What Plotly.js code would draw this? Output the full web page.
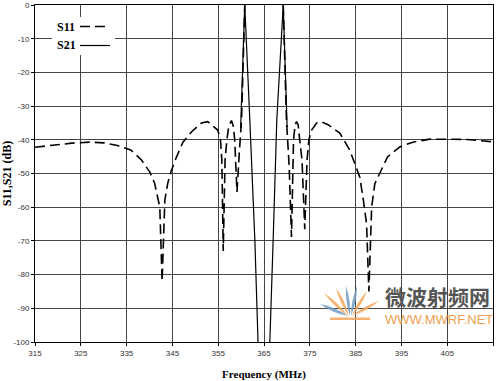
<!DOCTYPE html>
<html>
<head>
<meta charset="utf-8">
<script src="https://cdn.plot.ly/plotly-3.0.1.min.js"></script>
<style>html,body{margin:0;padding:0;background:#fff;}#chart{width:500px;height:381px;}</style>
</head>
<body>
<div id="chart"></div>
<script>
// ---- data ----
const s11Freq = [315, 319, 323, 327, 330, 333, 335.9, 338.25, 340.07, 341.1, 342.25, 342.75,
  343.35, 344.0, 344.8, 345.9, 347.3, 349.2, 351.35, 352.7, 354.9, 355.5, 355.8, 356.1,
  356.5, 356.9, 357.3, 357.9, 358.3, 358.6, 359.1, 359.6, 360.1, 360.8,
  null,
  369.2, 369.9, 370.5, 371.0, 371.45, 371.8, 372.1, 372.45, 372.8, 373.3, 373.9, 374.4,
  374.8, 375.4, 376.5, 377.55, 379.0, 381.55, 383.7, 385.9, 386.6, 387.4, 387.9,
  388.5, 389.2, 390.3, 392.0, 394.65, 397.5, 401.2, 404.9, 409.3, 415];
const s11Val = [-42.2, -41.5, -41.0, -40.7, -40.9, -41.7, -43.0, -46.0, -49.6, -52.8, -60.0, -82.0,
  -57.9, -52.8, -49.0, -45.1, -40.7, -37.6, -35.0, -34.6, -37.1, -40.0, -46.0, -73.0,
  -46.0, -40.0, -36.0, -34.3, -36.0, -40.0, -55.5, -44.0, -34.0, 0,
  null,
  0, -34.0, -48.0, -68.8, -40.0, -35.5, -34.6, -35.5, -40.0, -46.0, -66.5, -46.0,
  -40.0, -37.1, -35.0, -34.7, -35.5, -38.0, -43.0, -51.0, -57.0, -65.0, -85.0,
  -60.0, -53.0, -50.0, -45.0, -42.1, -40.7, -39.8, -39.8, -39.9, -40.6];

const s21Freq = [359.9, 360.8, 361.9, 363.0, 363.7, 364.2, 365.8, 366.27, 367.0, 367.8, 369.2, 370.05];
const s21Val  = [-36.5, 0, -34.0, -69.7, -100, -115, -115, -100, -69.7, -34.0, 0, -36.2];

const xTicks = [315, 325, 335, 345, 355, 365, 375, 385, 395, 405, 415];
const xTickText = ['315', '325', '335', '345', '355', '365', '375', '385', '395', '405', '415'];
const yTicks = [0, -10, -20, -30, -40, -50, -60, -70, -80, -90, -100];
const yTickText = ['0', '-10', '-20', '-30', '-40', '-50', '-60', '-70', '-80', '-90', '-100'];

const seriesNames = ['S11', 'S21'];
const xTitle = 'Frequency (MHz)';
const yTitle = 'S11,S21 (dB)';

// ---- layout helpers (pixel -> paper) ----
const W = 500, H = 381, ML = 35, MR = 7, MT = 5, MB = 39;
const PW = W - ML - MR, PH = H - MT - MB;
const px = x => (x - ML) / PW;
const py = y => (H - MB - y) / PH;

const serif = 'Liberation Serif, Times New Roman, serif';
const sans = 'Liberation Sans, Arial, sans-serif';
const dashPat = '10px,5px';

const traces = [
  {x: s11Freq, y: s11Val, name: seriesNames[0], type: 'scatter', mode: 'lines',
   line: {color: '#000', width: 1.6, dash: dashPat}, connectgaps: false, hoverinfo: 'x+y'},
  {x: s21Freq, y: s21Val, name: seriesNames[1], type: 'scatter', mode: 'lines',
   line: {color: '#000', width: 1.2}, hoverinfo: 'x+y'}
];

// watermark logo petals (decoration)
function petal(bx, by, tx, ty, w, color) {
  const mx = (bx + tx) / 2, my = (by + ty) / 2;
  const dx = tx - bx, dy = ty - by, L = Math.hypot(dx, dy);
  const nx = -dy / L * w, ny = dx / L * w;
  const p = (x, y) => px(x).toFixed(4) + ',' + py(y).toFixed(4);
  return {type: 'path', xref: 'paper', yref: 'paper', layer: 'above',
    path: 'M' + p(bx, by) + ' Q' + p(mx + nx, my + ny) + ' ' + p(tx, ty) +
          ' Q' + p(mx - nx, my - ny) + ' ' + p(bx, by) + ' Z',
    fillcolor: color, line: {width: 0}, opacity: 0.85};
}
const orange = '#F2A65A', blue = '#6F9BC4';
const logo = [
  petal(348, 316, 320, 304, 3.5, blue),
  petal(348, 316, 324, 293, 3, orange),
  petal(349, 316, 336, 288, 3, orange),
  petal(350, 316, 346, 286, 3, blue),
  petal(351, 316, 357, 286, 3, blue),
  petal(352, 316, 367, 291, 3, orange),
  petal(352, 316, 379, 301, 3, orange),
  {type: 'rect', xref: 'paper', yref: 'paper', layer: 'above',
   x0: px(330), x1: px(370), y0: py(317.5), y1: py(320), fillcolor: orange, line: {width: 0}, opacity: 0.85}
];

const legendShapes = [
  {type: 'rect', xref: 'paper', yref: 'paper', layer: 'above',
   x0: px(52), x1: px(115), y0: py(55), y1: py(17), fillcolor: '#fff', line: {width: 0}},
  {type: 'line', xref: 'paper', yref: 'paper', layer: 'above',
   x0: px(80), x1: px(110), y0: py(26.5), y1: py(26.5), line: {color: '#000', width: 1.6, dash: dashPat}},
  {type: 'line', xref: 'paper', yref: 'paper', layer: 'above',
   x0: px(80), x1: px(110), y0: py(45.5), y1: py(45.5), line: {color: '#000', width: 1.2}}
];

const axisCommon = {
  showgrid: true, gridcolor: '#454545', gridwidth: 1,
  showline: true, linecolor: '#000', linewidth: 1, mirror: true,
  ticks: 'outside', ticklen: 3, tickcolor: '#000', tickwidth: 1,
  tickfont: {family: sans, size: 8, color: '#333'},
  zeroline: false, tickmode: 'array', fixedrange: true
};

const layout = {
  width: W, height: H,
  margin: {l: ML, r: MR, t: MT, b: MB, pad: 0},
  paper_bgcolor: '#fff', plot_bgcolor: '#fff',
  showlegend: false,
  xaxis: Object.assign({}, axisCommon, {
    range: [315, 415], tickvals: xTicks, ticktext: xTickText,
    title: {text: xTitle, font: {family: serif, size: 11, color: '#000', weight: 'bold'}, standoff: 14}
  }),
  yaxis: Object.assign({}, axisCommon, {
    range: [-100, 0], tickvals: yTicks, ticktext: yTickText,
    title: {text: yTitle, font: {family: serif, size: 12, color: '#000', weight: 'bold'}, standoff: 4}
  }),
  shapes: legendShapes.concat(logo),
  annotations: [
    {xref: 'paper', yref: 'paper', x: px(55), y: py(26.5), xanchor: 'left', yanchor: 'middle',
     text: '<b>' + seriesNames[0] + '</b>', showarrow: false, font: {family: serif, size: 12, color: '#000'}},
    {xref: 'paper', yref: 'paper', x: px(55), y: py(45.5), xanchor: 'left', yanchor: 'middle',
     text: '<b>' + seriesNames[1] + '</b>', showarrow: false, font: {family: serif, size: 12, color: '#000'}},
    {xref: 'paper', yref: 'paper', x: px(437), y: py(296), xanchor: 'center', yanchor: 'middle',
     text: '<b>微波射频网</b>', showarrow: false, font: {family: 'Noto Sans CJK SC', size: 21, color: '#555'}},
    {xref: 'paper', yref: 'paper', x: px(439), y: py(319.5), xanchor: 'center', yanchor: 'middle',
     text: 'WWW.MWRF.NET', showarrow: false, font: {family: sans, size: 13, color: '#F0A050'}}
  ]
};

Plotly.newPlot('chart', traces, layout, {displayModeBar: false, staticPlot: true});
</script>
</body>
</html>
